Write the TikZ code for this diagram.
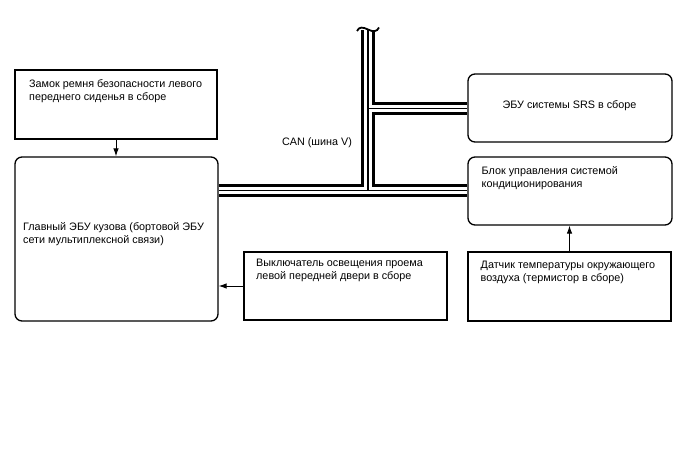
\documentclass[tikz,border=0pt]{standalone}
\usepackage{fontspec}
\setmainfont{Liberation Sans}
\usetikzlibrary{arrows.meta}
\begin{document}
\begin{tikzpicture}[x=1pt,y=-1pt,
  sbox/.style={draw=black, line width=1.3pt, inner sep=0pt},
  rbox/.style={draw=black, line width=1.3pt, rounded corners=7pt, inner sep=0pt},
  txt/.style={font=\fontsize{10.8}{13}\selectfont, inner sep=0pt},
  lbl/.style={txt, align=left, anchor=north west},
  conn/.style={draw=black, line width=0.9pt, -{Latex[length=8pt,width=5.5pt]}}]
\useasboundingbox (0,0) rectangle (688,463);
\fill[white] (0,0) rectangle (688,463);
% boxes
\node[sbox, minimum width=202pt, minimum height=69pt] (seat) at (116,104.5) {};
\node[rbox, minimum width=203pt, minimum height=164pt] (ecu) at (116.5,239) {};
\node[sbox, minimum width=203pt, minimum height=68pt] (sw) at (345.5,286) {};
\node[rbox, minimum width=204pt, minimum height=68pt] (srs) at (570,108) {};
\node[rbox, minimum width=204pt, minimum height=68pt] (ac) at (570,191) {};
\node[sbox, minimum width=203pt, minimum height=69pt] (sens) at (569.5,286.5) {};
% texts
\node[lbl] (tseat) at (29,79.5) {Замок ремня безопасности левого\\переднего сиденья в сборе};
\node[lbl] (tecu) at (23,222) {Главный ЭБУ кузова (бортовой ЭБУ\\сети мультиплексной связи)};
\node[lbl] (tsw) at (256,259) {Выключатель освещения проема\\левой передней двери в сборе};
\node[txt, anchor=base] (tsrs) at (569.5,108.3) {ЭБУ системы SRS в сборе};
\node[lbl] (tac) at (481.5,166) {Блок управления системой\\кондиционирования};
\node[lbl] (tsens) at (480.5,260.5) {Датчик температуры окружающего\\воздуха (термистор в сборе)};
\node[txt, anchor=base] (tcan) at (317,145) {CAN (шина V)};
% bus
\coordinate (top) at (368,30);
\coordinate (j1) at (368,108.3);
\coordinate (j2) at (368,190.7);
\coordinate (e1) at (ecu.east |- j2);
\coordinate (e2) at (ac.west |- j2);
\coordinate (s1) at (srs.west |- j1);
\foreach \w/\c in {13.5pt/black,7.5pt/white,1.4pt/black}{
  \draw[line width=\w, draw=\c, line cap=butt] (top) -- (j2) (e1) -- (e2) (j1) -- (s1);
}
\draw[line width=1.8pt] (357,31) .. controls (359,26.5) and (363,27) .. (368,29.5) .. controls (373,32) and (377,32) .. (379,27.5);
% connectors
\draw[conn] (seat.south) -- (seat.south |- ecu.north);
\draw[conn] (sw.west) -- (sw.west -| ecu.east);
\draw[conn] (sens.north) -- (sens.north |- ac.south);
\end{tikzpicture}
\end{document}
